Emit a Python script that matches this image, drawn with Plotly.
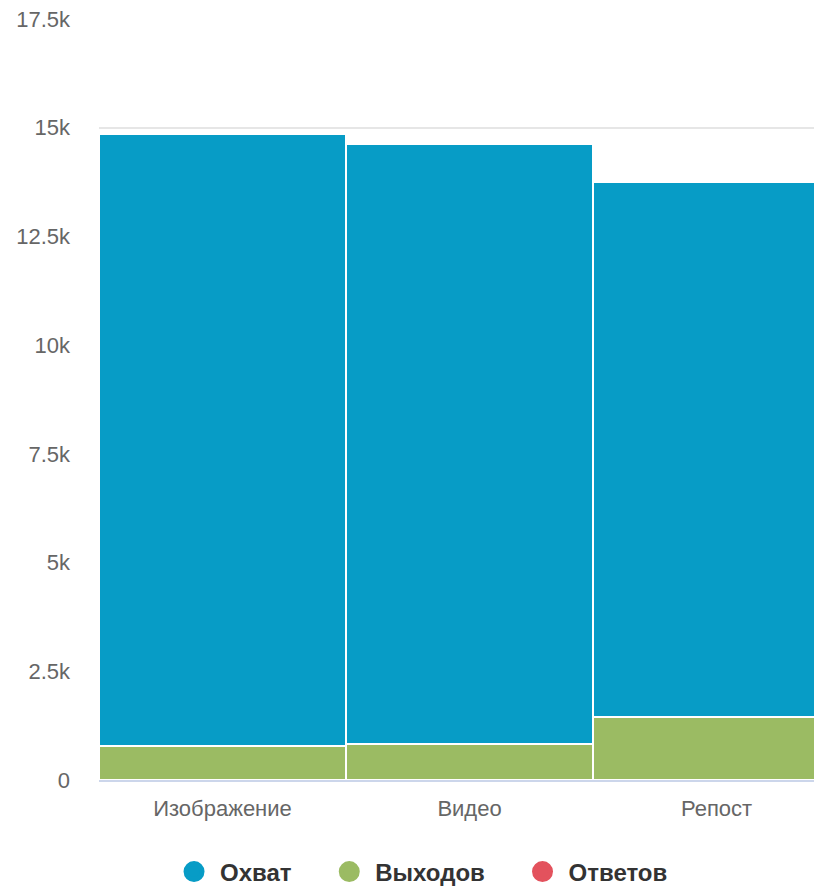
import plotly.graph_objects as go

categories = ["Изображение", "Видео", "Репост"]
reach = [14070, 13800, 12310]      # Охват
exits = [790, 830, 1450]           # Выходов
replies = [0, 0, 0]                # Ответов

tick_vals = [0, 2500, 5000, 7500, 10000, 12500, 15000, 17500]
tick_text = ["0", "2.5k", "5k", "7.5k", "10k", "12.5k", "15k", "17.5k"]

BLUE = "#079cc6"
GREEN = "#9bbb63"
RED = "#e3525d"
FONT = "Liberation Sans"
PAD = "\u00a0" * 4  # extra room between legend items


def main():
    fig = go.Figure()
    # stacking: first trace at the bottom
    fig.add_trace(go.Bar(x=categories, y=exits, name="Выходов", marker_color=GREEN,
                         marker_line=dict(color="white", width=2), showlegend=False))
    fig.add_trace(go.Bar(x=categories, y=reach, name="Охват", marker_color=BLUE,
                         marker_line=dict(color="white", width=2), showlegend=False))
    fig.add_trace(go.Bar(x=categories, y=replies, name="Ответов", marker_color=RED,
                         marker_line=dict(color="white", width=0), showlegend=False))

    # legend entries as round markers
    for name, color in [("Охват", BLUE), ("Выходов", GREEN), ("Ответов", RED)]:
        fig.add_trace(go.Scatter(x=[None], y=[None], mode="markers", name=name + PAD,
                                 marker=dict(color=color, size=16, symbol="circle",
                                             line=dict(color=color, width=5))))

    # page body offsets the figure by 8px
    fig.update_layout(
        width=814,
        height=878,
        barmode="stack",
        bargap=0,
        plot_bgcolor="white",
        paper_bgcolor="white",
        font=dict(family=FONT, size=22, color="#666666"),
        margin=dict(l=91, r=0, t=10, b=106),
        xaxis=dict(
            range=[-0.5, 2.427],
            showgrid=False,
            showline=True,
            linecolor="#ccd6eb",
            linewidth=2,
            ticks="",
            ticklabelstandoff=8,
            tickfont=dict(size=22, color="#666666"),
        ),
        yaxis=dict(
            range=[0, 17523],
            tickvals=tick_vals,
            ticktext=tick_text,
            showgrid=True,
            gridcolor="#e6e6e6",
            gridwidth=2,
            zeroline=False,
            ticks="",
            ticklabelstandoff=28,
            ticklabeloverflow="allow",
            tickfont=dict(size=22, color="#666666"),
        ),
        legend=dict(
            orientation="h",
            traceorder="normal",
            x=0.4627,
            xanchor="center",
            yref="container",
            y=0.016,
            yanchor="middle",
            itemwidth=42,
            font=dict(family=FONT, size=24, color="#333333", weight="bold"),
        ),
    )
    fig.write_html("out.html")


if __name__ == "__main__":
    main()
